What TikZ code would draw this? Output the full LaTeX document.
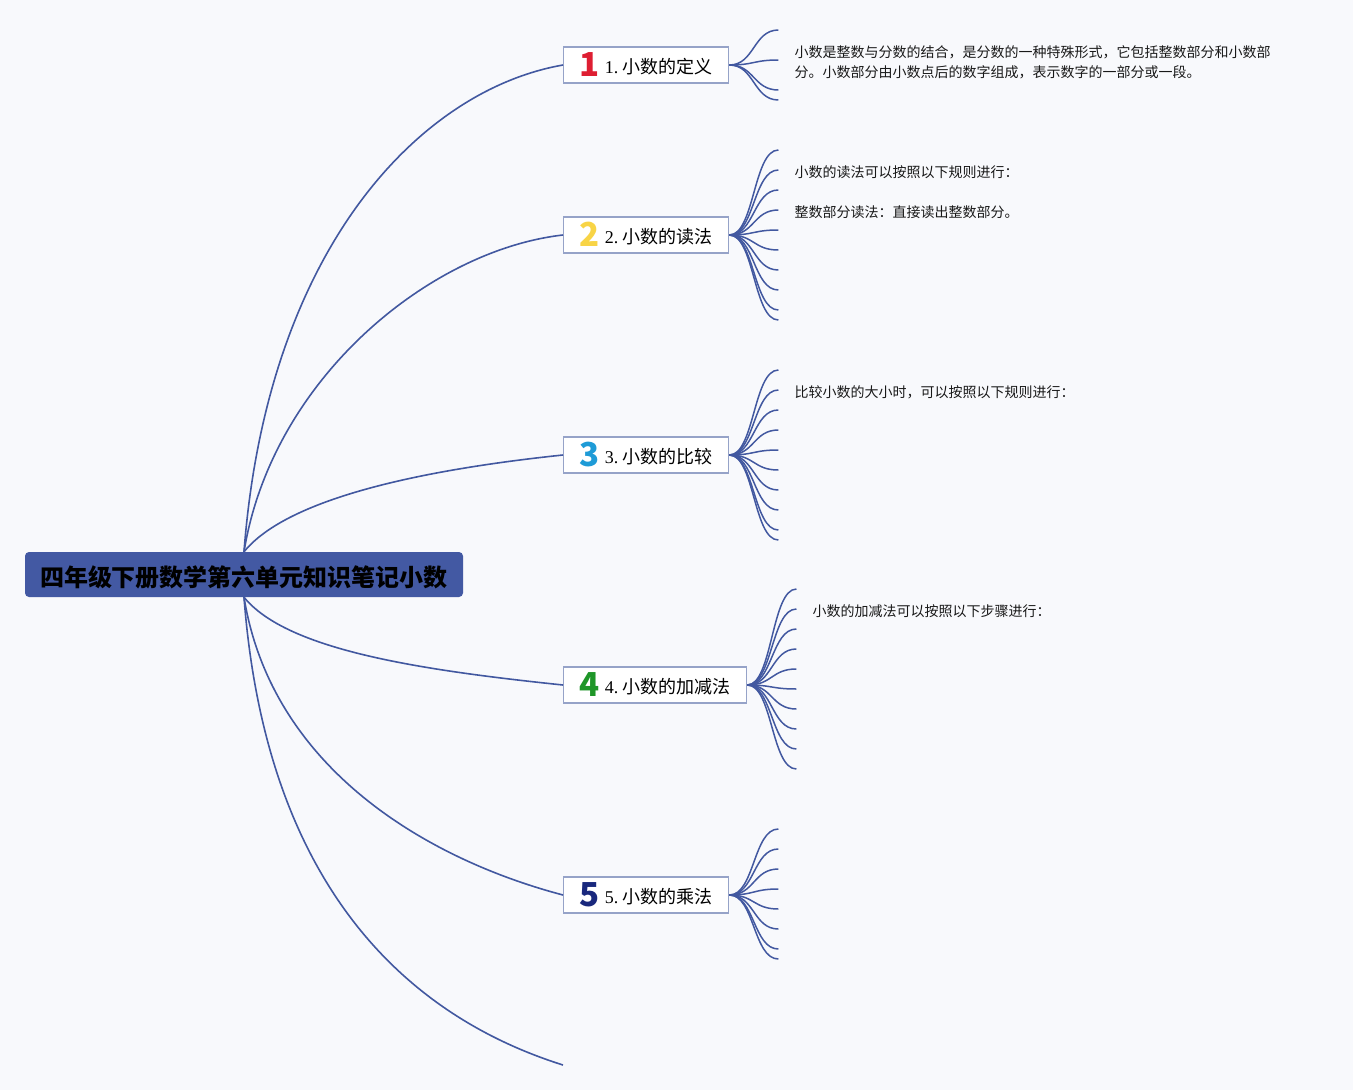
\documentclass[tikz,border=0pt]{standalone}
\usepackage{fontspec}
\setmainfont{Liberation Serif}
\newfontfamily\cjk{Noto Sans CJK SC}
\usepackage{xcolor}
\usetikzlibrary{positioning, calc}

\definecolor{linkblue}{RGB}{66,88,160}
\definecolor{rootblue}{RGB}{67,89,163}
\definecolor{boxline}{RGB}{150,163,200}
\definecolor{bgcol}{RGB}{248,249,252}
\definecolor{numred}{RGB}{222,30,50}
\definecolor{numyellow}{RGB}{248,212,70}
\definecolor{numblue}{RGB}{30,155,215}
\definecolor{numgreen}{RGB}{30,150,40}
\definecolor{numnavy}{RGB}{25,40,125}

\newcommand{\numicon}[2]{\raisebox{-3pt}{\textcolor{#1}{\cjk\bfseries\fontsize{33}{33}\selectfont #2}}\hspace{5pt}}

\begin{document}
\begin{tikzpicture}[
    x=1pt, y=1pt,
    root/.style={rectangle, fill=rootblue, rounded corners=4pt, minimum width=438, minimum height=45, text height=24pt, text depth=1pt, font=\cjk\bfseries\fontsize{24}{28}\selectfont, text=black},
    branch/.style={rectangle, draw=boxline, line width=1.3pt, fill=white, minimum height=36, inner xsep=16pt, text height=21pt, text depth=4pt, font=\fontsize{18}{22}\selectfont, anchor=west},
    link/.style={draw=linkblue, line width=1.6pt},
    fan/.style={draw=linkblue, line width=1.5pt},
    leaf/.style={font=\cjk\fontsize{14}{20}\selectfont, text=black!90, inner sep=0pt, align=left, yshift=-2pt}
]

\fill[bgcol] (0,0) rectangle (1353,-1090);

% Root
\node[root] (root) at (244,-574.5) {四年级下册数学第六单元知识笔记小数};

% Branches
\node[branch] (b1) at (563,-65)  {\numicon{numred}{1}1.\ {\cjk 小数的定义}};
\node[branch] (b2) at (563,-235) {\numicon{numyellow}{2}2.\ {\cjk 小数的读法}};
\node[branch] (b3) at (563,-455) {\numicon{numblue}{3}3.\ {\cjk 小数的比较}};
\node[branch] (b4) at (563,-685) {\numicon{numgreen}{4}4.\ {\cjk 小数的加减法}};
\node[branch] (b5) at (563,-895) {\numicon{numnavy}{5}5.\ {\cjk 小数的乘法}};
\coordinate (b6) at (563,-1065);

% Links from root
\draw[link] (root.north) .. controls +(23,303) and +(-143,-25) .. (b1.west);
\draw[link] (root.north) .. controls +(28,173) and +(-133,-15) .. (b2.west);
\draw[link] (root.north) .. controls +(43,53) and +(-143,-15) .. (b3.west);
\draw[link] (root.south) .. controls +(43,-53) and +(-143,15) .. (b4.west);
\draw[link] (root.south) .. controls +(28,-173) and +(-133,35) .. (b5.west);
\draw[link] (root.south) .. controls +(23,-303) and +(-143,45) .. (b6);

% Fans
\foreach \b/\offs in {b1/{35,5,-25,-35},
                      b2/{85,65,45,25,5,-15,-35,-55,-75,-85},
                      b3/{85,65,45,25,5,-15,-35,-55,-75,-85},
                      b4/{96,76,56,36,16,-4,-24,-44,-64,-84},
                      b5/{66,46,26,6,-14,-34,-54,-64}}{
  \foreach \dy [count=\i] in \offs {
    \coordinate (\b-\i) at ($(\b.east)+(49,\dy)$);
    \draw[fan] (\b.east) .. controls +(25,0) and +(-25,0) .. (\b-\i);
  }
}

% Leaf texts
\node[leaf, right=16pt of b1-2] (t1) {小数是整数与分数的结合，是分数的一种特殊形式，它包括整数部分和小数部\\分。小数部分由小数点后的数字组成，表示数字的一部分或一段。};
\node[leaf, right=16pt of b2-2] (t2a) {小数的读法可以按照以下规则进行：};
\node[leaf, right=16pt of b2-4] (t2b) {整数部分读法：直接读出整数部分。};
\node[leaf, right=16pt of b3-2] (t3) {比较小数的大小时，可以按照以下规则进行：};
\node[leaf, right=16pt of b4-2] (t4) {小数的加减法可以按照以下步骤进行：};

\end{tikzpicture}
\end{document}
